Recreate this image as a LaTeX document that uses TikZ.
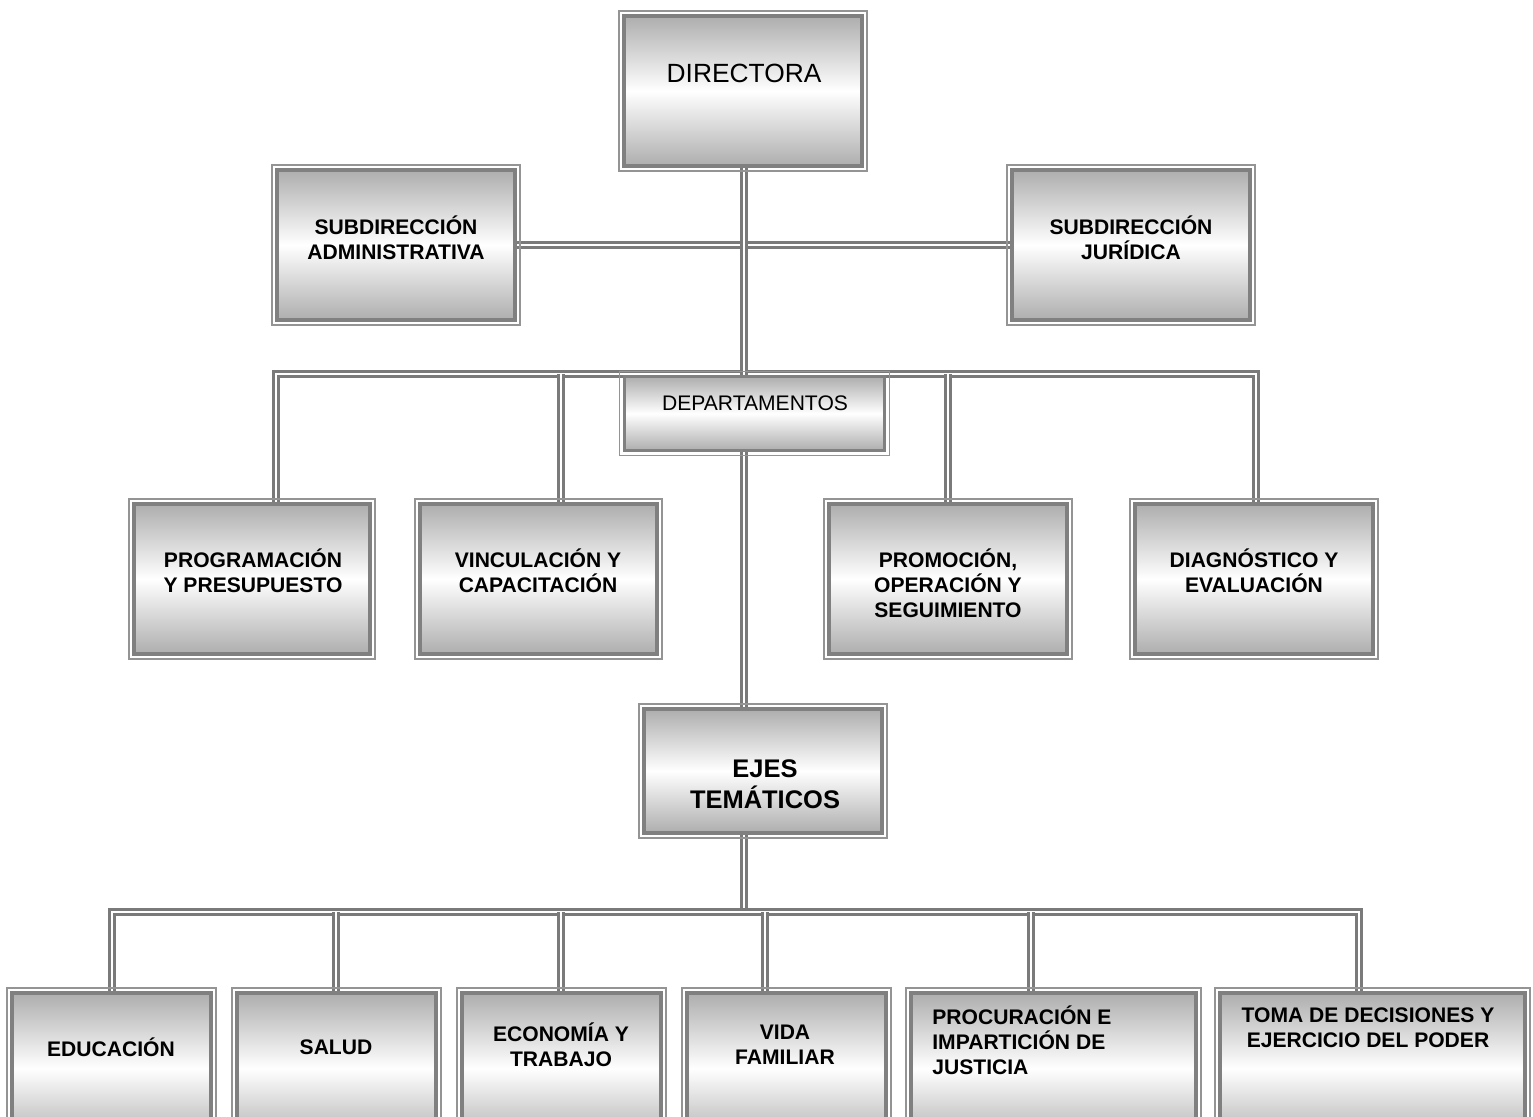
\documentclass[tikz,border=0pt]{standalone}
\usepackage{fontspec}
\setmainfont{Liberation Sans}
\usetikzlibrary{calc,backgrounds}

\tikzset{
  caja/.style={draw=black!50, line width=1.8pt, inner sep=0pt, outer sep=0pt,
    top color=black!32, bottom color=black!32, middle color=white},
  marco/.style={draw=black!42, line width=0.9pt},
  enlace/.style={draw=black!52, line width=1.3pt, double=white, double distance=1.5pt},
  texto/.style={font=\bfseries\fontsize{12}{14.2}\selectfont, align=center, inner sep=0pt}
}

\begin{document}
\begin{tikzpicture}[x=0.02cm,y=-0.02cm]
  \useasboundingbox (0,0) rectangle (1533,1116);

  %cajas%
  \node[caja, minimum width=4.76cm, minimum height=3cm] (dir) at (743,91) {};
  \node[caja, minimum width=4.76cm, minimum height=3cm] (sadm) at (396,245) {};
  \node[caja, minimum width=4.76cm, minimum height=3cm] (sjur) at (1131,245) {};
  \node[caja, minimum width=5.2cm, minimum height=1.48cm] (dep) at (754.5,413.5) {};
  \node[caja, minimum width=4.72cm, minimum height=3cm] (prog) at (252,579) {};
  \node[caja, minimum width=4.74cm, minimum height=3cm] (vinc) at (538.5,579) {};
  \node[caja, minimum width=4.76cm, minimum height=3cm] (prom) at (948,579) {};
  \node[caja, minimum width=4.76cm, minimum height=3cm] (diag) at (1254,579) {};
  \node[caja, minimum width=4.76cm, minimum height=2.48cm] (ejes) at (763,771) {};
  \node[caja, minimum width=3.98cm, minimum height=3.02cm] (edu) at (111.5,1068.5) {};
  \node[caja, minimum width=3.98cm, minimum height=3.02cm] (sal) at (336.5,1068.5) {};
  \node[caja, minimum width=3.98cm, minimum height=3.02cm] (eco) at (561.5,1068.5) {};
  \node[caja, minimum width=3.98cm, minimum height=3.02cm] (vida) at (786.5,1068.5) {};
  \node[caja, minimum width=5.7cm, minimum height=3.02cm] (proc) at (1053.5,1068.5) {};
  \node[caja, minimum width=6.1cm, minimum height=3.02cm] (toma) at (1372.5,1068.5) {};

  \foreach \n in {dir,sadm,sjur,dep,prog,vinc,prom,diag,ejes,edu,sal,eco,vida,proc,toma}
    \draw[marco] ($(\n.south west)+(-2.8pt,-2.8pt)$) rectangle ($(\n.north east)+(2.8pt,2.8pt)$);

  %textos%
  \node[font=\fontsize{15}{18}\selectfont, inner sep=0pt] (tdir) at (744,73) {DIRECTORA};
  \node[texto] (tsadm) at (396,237.5) {SUBDIRECCIÓN\\ADMINISTRATIVA};
  \node[texto] (tsjur) at (1131,237.5) {SUBDIRECCIÓN\\JURÍDICA};
  \node[font=\fontsize{12}{14}\selectfont, inner sep=0pt] (tdep) at (755,403) {DEPARTAMENTOS};
  \node[texto] (tprog) at (253,570.5) {PROGRAMACIÓN\\Y PRESUPUESTO};
  \node[texto] (tvinc) at (538,570.5) {VINCULACIÓN Y\\CAPACITACIÓN};
  \node[texto] (tprom) at (948,583) {PROMOCIÓN,\\OPERACIÓN Y\\SEGUIMIENTO};
  \node[texto] (tdiag) at (1254,570.5) {DIAGNÓSTICO Y\\EVALUACIÓN};
  \node[texto, font=\bfseries\fontsize{14.5}{17.6}\selectfont] (tejes) at (765,784) {EJES\\TEMÁTICOS};
  \node[texto] (tedu) at (111,1047) {EDUCACIÓN};
  \node[texto] (tsal) at (336,1047) {SALUD};
  \node[texto] (teco) at (561,1044.5) {ECONOMÍA Y\\TRABAJO};
  \node[texto] (tvida) at (785,1044.5) {VIDA\\FAMILIAR};
  \node[texto, align=left, anchor=west] (tproc) at (932,1040) {PROCURACIÓN E\\IMPARTICIÓN DE\\JUSTICIA};
  \node[texto] (ttoma) at (1368,1027.5) {TOMA DE DECISIONES Y\\EJERCICIO DEL PODER};

  %enlaces%
  \coordinate (bprog) at (276,374);
  \coordinate (bvinc) at (561,374);
  \coordinate (bprom) at (948,374);
  \coordinate (bdiag) at (1256,374);
  \coordinate (bcen) at (744,912);
  \coordinate (bedu) at (112,912);
  \coordinate (bsal) at (336,912);
  \coordinate (beco) at (561,912);
  \coordinate (bvida) at (765,912);
  \coordinate (bproc) at (1031,912);
  \coordinate (btoma) at (1359,912);

  \begin{pgfonlayer}{background}
    \fill[white] (0,0) rectangle (1533,1116);
    \draw[enlace] (sadm.east) -- (sjur.west);
    \draw[enlace] (bprog |- prog.north) -- (bprog) -- (bdiag) -- (bdiag |- diag.north);
    \draw[enlace] (bvinc) -- (bvinc |- vinc.north);
    \draw[enlace] (bprom) -- (bprom |- prom.north);
    \draw[enlace] (bcen |- dir.south) -- (bcen |- dep.north);
    \draw[enlace] (bcen |- dep.south) -- (bcen |- ejes.north);
    \draw[enlace] (bcen |- ejes.south) -- (bcen);
    \draw[enlace] (bedu |- edu.north) -- (bedu) -- (btoma) -- (btoma |- toma.north);
    \foreach \b/\n in {bsal/sal,beco/eco,bvida/vida,bproc/proc}
      \draw[enlace] (\b) -- (\b |- \n.north);
  \end{pgfonlayer}
\end{tikzpicture}
\end{document}
